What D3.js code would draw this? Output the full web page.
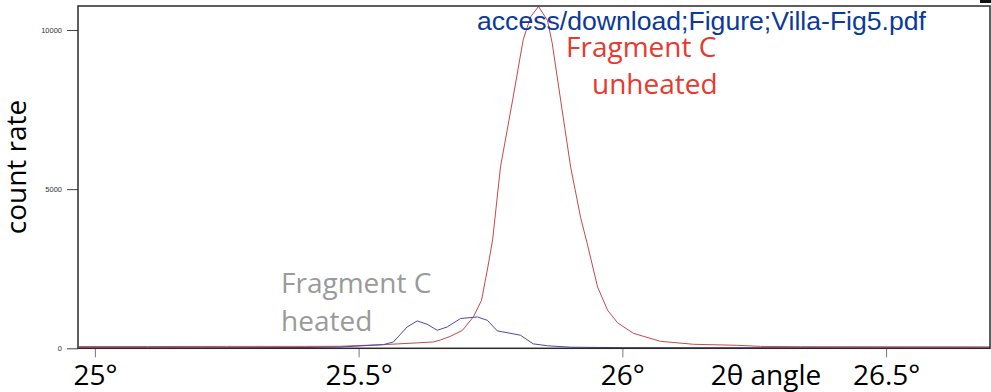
<!DOCTYPE html>
<html>
<head>
<meta charset="utf-8">
<script src="https://cdn.jsdelivr.net/npm/d3@7"></script>
<style>
  body { margin: 0; background: #fff; }
  svg { display: block; }
</style>
</head>
<body>
<svg id="chart"></svg>
<script>
// 2theta positions (deg) and count rates
const unheatedAngle = [24.97, 25.1, 25.25, 25.4, 25.465, 25.547, 25.611, 25.642, 25.655, 25.674, 25.697, 25.718, 25.733, 25.744, 25.754, 25.769, 25.792, 25.812, 25.826, 25.841, 25.858, 25.867, 25.883, 25.902, 25.921, 25.934, 25.953, 25.972, 25.991, 26.021, 26.072, 26.135, 26.218, 26.262, 26.338, 26.5, 26.697];
const unheatedCount = [55, 55, 60, 60, 63, 115, 170, 200, 260, 377, 566, 1000, 1510, 2460, 3400, 5700, 7800, 9690, 10410, 10740, 10300, 9590, 7800, 5690, 4100, 3250, 1930, 1195, 800, 470, 220, 126, 94, 60, 50, 48, 45];

const heatedAngle = [24.97, 25.2, 25.4, 25.465, 25.547, 25.566, 25.592, 25.611, 25.630, 25.649, 25.668, 25.693, 25.725, 25.744, 25.763, 25.785, 25.807, 25.831, 25.858, 25.902, 26.0, 26.3, 26.697];
const heatedCount = [15, 15, 25, 40, 115, 200, 670, 860, 755, 566, 670, 934, 985, 880, 545, 480, 410, 140, 80, 35, 20, 15, 10];

const xTicks = [25, 25.5, 26, 26.5];
const yTicks = [0, 5000, 10000];

const width = 991;
const height = 392;
const plot = { left: 78, top: 6, right: 990, bottom: 348.3 };

const svg = d3.select("#chart").attr("width", width).attr("height", height);

const x = d3.scaleLinear().domain([24.968, 26.697]).range([plot.left, plot.right]);
const y = d3.scaleLinear().domain([0, 10754]).range([plot.bottom, plot.top]);

const unheated = unheatedAngle.map((a, i) => ({ a: a, c: unheatedCount[i] }));
const heated = heatedAngle.map((a, i) => ({ a: a, c: heatedCount[i] }));

const line = d3.line().x(d => x(d.a)).y(d => y(d.c));

// small dark bar at the top right corner of the page
svg.append("rect").attr("x", 980).attr("y", 0).attr("width", 11).attr("height", 3).attr("fill", "#111");

// axes
svg.append("g")
  .attr("transform", `translate(${plot.left},0)`)
  .call(d3.axisLeft(y).tickValues(yTicks).tickSize(11).tickPadding(5).tickFormat(d3.format("d")))
  .call(g => g.select(".domain").remove())
  .call(g => g.selectAll("line").attr("stroke", "#444"))
  .call(g => g.selectAll("text")
    .style("font-family", "Liberation Sans, Arial, sans-serif")
    .style("font-size", "7.5px")
    .attr("fill", "#333"));

svg.append("g")
  .attr("transform", `translate(0,${plot.bottom})`)
  .call(d3.axisBottom(x).tickValues(xTicks).tickSize(9).tickPadding(8).tickFormat(d => d + "°"))
  .call(g => g.select(".domain").remove())
  .call(g => g.selectAll("line").attr("stroke", "#777"))
  .call(g => g.selectAll("text")
    .style("font-family", "Open Sans, sans-serif")
    .style("font-size", "28px")
    .attr("fill", "#000"));

// curves
svg.append("path").datum(unheated)
  .attr("d", line).attr("fill", "none")
  .attr("stroke", "#c94848").attr("stroke-width", 1);
svg.append("path").datum(heated)
  .attr("d", line).attr("fill", "none")
  .attr("stroke", "#4a4aa8").attr("stroke-width", 1);

// frame
svg.append("rect")
  .attr("x", plot.left).attr("y", plot.top)
  .attr("width", plot.right - plot.left).attr("height", plot.bottom - plot.top)
  .attr("fill", "none").attr("stroke", "#2a2a2a").attr("stroke-width", 1.5);

// axis titles
svg.append("text")
  .attr("transform", "translate(26,167) rotate(-90)")
  .style("text-anchor", "middle")
  .style("font-family", "Open Sans, sans-serif")
  .style("font-size", "28px")
  .text("count rate");

svg.append("text")
  .attr("x", 766).attr("y", 385)
  .style("text-anchor", "middle")
  .style("font-family", "Open Sans, sans-serif")
  .style("font-size", "28px")
  .text("2θ angle");

// annotations
const notes = [
  { t: "Fragment C", x: 566, y: 57, c: "#e63a2e" },
  { t: "unheated", x: 592, y: 94, c: "#e63a2e" },
  { t: "Fragment C", x: 281, y: 293, c: "#9a9a9a" },
  { t: "heated", x: 281, y: 331, c: "#9a9a9a" }
];
svg.selectAll(".note").data(notes).enter().append("text")
  .attr("class", "note")
  .attr("x", d => d.x).attr("y", d => d.y)
  .style("font-family", "Open Sans, sans-serif")
  .style("font-size", "28px")
  .style("fill", d => d.c)
  .text(d => d.t);

svg.append("text")
  .attr("x", 477).attr("y", 30)
  .attr("textLength", 449).attr("lengthAdjust", "spacingAndGlyphs")
  .style("font-family", "Liberation Sans, Arial, sans-serif")
  .style("font-size", "26px")
  .style("fill", "#0b3a98")
  .text("access/download;Figure;Villa-Fig5.pdf");
</script>
</body>
</html>
